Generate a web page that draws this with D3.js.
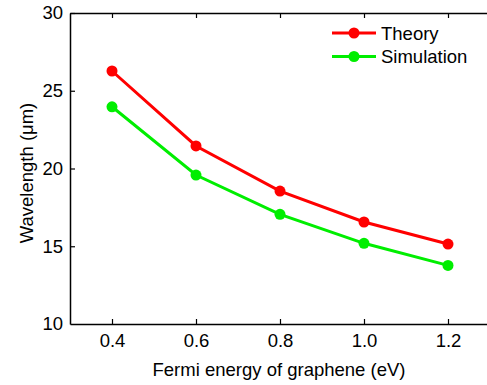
<!DOCTYPE html>
<html><head><meta charset="utf-8">
<script src="https://cdn.jsdelivr.net/npm/d3@7"></script>
<style>body{margin:0;background:#fff}svg{display:block}text{font-family:"Liberation Sans",Arial,sans-serif;fill:#000}</style>
</head><body>
<script>
const energies = [0.4, 0.6, 0.8, 1.0, 1.2];
const theory = [26.27, 21.45, 18.55, 16.56, 15.14];
const simulation = [23.97, 19.58, 17.05, 15.19, 13.77];
const xTicks = [0.4, 0.6, 0.8, 1.0, 1.2];
const yTicks = [10, 15, 20, 25, 30];
const seriesNames = ["Theory", "Simulation"];
const colors = ["#ff0000", "#00ee00"];

const W = 487, H = 385;
const m = {left: 70, top: 13, right: 490, bottom: 324};
const svg = d3.select("body").append("svg").attr("width", W).attr("height", H);
const x = d3.scaleLinear().domain([0.3, 1.3]).range([m.left, m.right]);
const y = d3.scaleLinear().domain([10, 30]).range([m.bottom, m.top]);

const fs = "18.5px";
const gx = svg.append("g").attr("transform", `translate(0,${m.bottom})`)
  .call(d3.axisBottom(x).tickValues(xTicks).tickSizeInner(-5).tickSizeOuter(0).tickPadding(10).tickFormat(d3.format(".1f")));
const gxt = svg.append("g").attr("transform", `translate(0,${m.top})`)
  .call(d3.axisTop(x).tickValues(xTicks).tickSizeInner(-5).tickSizeOuter(0).tickFormat(""));
const gy = svg.append("g").attr("transform", `translate(${m.left},0)`)
  .call(d3.axisLeft(y).tickValues(yTicks).tickSizeInner(-5).tickSizeOuter(0).tickPadding(7).tickFormat(d3.format("d")));
[gx, gxt, gy].forEach(g => {
  g.selectAll(".domain").attr("stroke", "#000").attr("stroke-width", 1.5);
  g.selectAll(".tick line").attr("stroke", "#000").attr("stroke-width", 1.2);
  g.selectAll("text").style("font-size", fs).style("font-family", '"Liberation Sans",Arial,sans-serif').attr("fill", "#000");
});
gy.selectAll(".tick").filter(d => d === 10).select("line").remove();

const data = [theory, simulation];
const line = d3.line().x((d, i) => x(energies[i])).y(d => y(d));
data.forEach((s, k) => {
  svg.append("path").datum(s).attr("d", line).attr("fill", "none")
    .attr("stroke", colors[k]).attr("stroke-width", 3);
  svg.selectAll(null).data(s).enter().append("circle")
    .attr("cx", (d, i) => x(energies[i])).attr("cy", d => y(d)).attr("r", 5.5).attr("fill", colors[k]);
});

seriesNames.forEach((n, k) => {
  const ly = 33 + k * 23.5;
  svg.append("line").attr("x1", 332).attr("x2", 376).attr("y1", ly).attr("y2", ly)
    .attr("stroke", colors[k]).attr("stroke-width", 3);
  svg.append("circle").attr("cx", 354).attr("cy", ly).attr("r", 5.5).attr("fill", colors[k]);
  svg.append("text").attr("x", 381).attr("y", ly + 6.5).style("font-size", fs).text(n);
});

svg.append("text").attr("x", 279).attr("y", 376).attr("text-anchor", "middle")
  .style("font-size", fs).text("Fermi energy of graphene (eV)");
svg.append("text").attr("transform", `translate(33,173) rotate(-90)`)
  .attr("text-anchor", "middle").style("font-size", fs).text("Wavelength (\u03bcm)");
</script>
</body></html>
